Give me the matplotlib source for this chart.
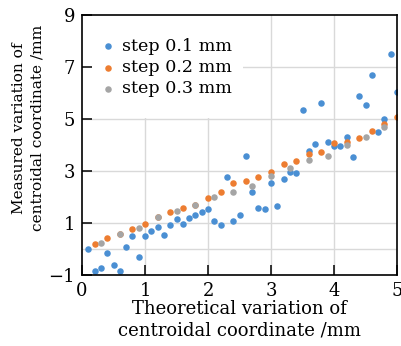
import matplotlib
matplotlib.use("Agg")
import matplotlib.pyplot as plt
from matplotlib.patches import Rectangle

# ---- data ----
x_01 = [0.1, 0.2, 0.3, 0.4, 0.5, 0.6, 0.7, 0.8, 0.9, 1.0,
        1.1, 1.2, 1.3, 1.4, 1.5, 1.6, 1.7, 1.8, 1.9, 2.0,
        2.1, 2.2, 2.3, 2.4, 2.5, 2.6, 2.7, 2.8, 2.9, 3.0,
        3.1, 3.2, 3.3, 3.4, 3.5, 3.6, 3.7, 3.8, 3.9, 4.0,
        4.1, 4.2, 4.3, 4.4, 4.5, 4.6, 4.7, 4.8, 4.9, 5.0]
y_01 = [0.00, -0.83, -0.74, -0.17, -0.63, -0.86, 0.09, 0.51, -0.32, 0.51,
        0.70, 0.83, 0.54, 0.92, 1.15, 0.96, 1.18, 1.31, 1.43, 1.53,
        1.09, 0.93, 2.78, 1.09, 1.31, 3.59, 2.20, 1.57, 1.54, 2.53,
        1.65, 2.69, 2.97, 2.91, 5.35, 3.78, 4.04, 5.60, 4.10, 3.97,
        3.97, 4.29, 3.55, 5.88, 5.54, 6.69, 4.49, 5.00, 7.50, 6.05]

x_02 = [0.2, 0.4, 0.6, 0.8, 1.0, 1.2, 1.4, 1.6, 1.8, 2.0,
        2.2, 2.4, 2.6, 2.8, 3.0, 3.2, 3.4, 3.6, 3.8, 4.0,
        4.2, 4.4, 4.6, 4.8, 5.0]
y_02 = [0.19, 0.44, 0.56, 0.77, 0.96, 1.22, 1.43, 1.56, 1.69, 1.95,
        2.20, 2.53, 2.60, 2.78, 2.97, 3.26, 3.40, 3.64, 3.74, 4.06,
        4.13, 4.28, 4.54, 4.81, 5.09]

x_03 = [0.3, 0.6, 0.9, 1.2, 1.5, 1.8, 2.1, 2.4, 2.7, 3.0,
        3.3, 3.6, 3.9, 4.2, 4.5, 4.8]
y_03 = [0.22, 0.56, 0.82, 1.22, 1.46, 1.69, 2.00, 2.20, 2.42, 2.82,
        3.10, 3.42, 3.58, 4.00, 4.29, 4.68]

labels = ["step 0.1 mm", "step 0.2 mm", "step 0.3 mm"]
colors = ["#4a8fd3", "#ed7d31", "#a5a5a5"]

x_ticks = [0, 1, 2, 3, 4, 5]
y_ticks = [-1, 1, 3, 5, 7, 9]
x_grid = [1, 2, 3, 4]
y_grid = [0, 1, 3, 5, 7]

plt.rcParams["font.family"] = ["DejaVu Serif"]
plt.rcParams["mathtext.fontset"] = "dejavuserif"
FS = 12.6

W, H = 401, 346
fig = plt.figure(figsize=(W / 100, H / 100), dpi=100)
ax = fig.add_axes([82 / W, 1 - 275 / H, (397 - 82) / W, (275 - 15) / H])

ax.set_xlim(0, 5)
ax.set_ylim(-1, 9)

for gx in x_grid:
    ax.axvline(gx, color="#d9d9d9", lw=1.0, zorder=0.5)
for gy in y_grid:
    ax.axhline(gy, color="#d9d9d9", lw=1.0, zorder=0.5)

# white legend background
ax.add_patch(Rectangle((0, 5.05), 2.55, 3.95, facecolor="white",
                       edgecolor="none", zorder=1))

for xs, ys, c, lab in zip([x_01, x_02, x_03], [y_01, y_02, y_03], colors, labels):
    ax.scatter(xs, ys, s=22, color=c, linewidths=0, label=lab, zorder=2)

ax.set_xticks(x_ticks)
ax.set_yticks(y_ticks)
ax.tick_params(direction="in", length=7, width=1.1, labelsize=13, pad=5,
               top=False, right=False)
for sp in ax.spines.values():
    sp.set_linewidth(1.2)
    sp.set_color("black")

ax.set_xlabel("Theoretical variation of\ncentroidal coordinate /mm",
              fontsize=13, linespacing=1.25)
ax.xaxis.label.set_va("center")
ax.xaxis.set_label_coords(0.5, (275 - 319.5) / 260, transform=ax.transAxes)
ax.set_ylabel("Measured variation of\ncentroidal coordinate /mm",
              fontsize=11.1, linespacing=1.45)
ax.yaxis.label.set_va("center")
ax.yaxis.label.set_ha("center")
ax.yaxis.set_label_coords((28 - 82) / 315, (275 - 128) / 260,
                          transform=ax.transAxes)

leg = ax.legend(loc="upper left", bbox_to_anchor=(101 / W, 1 - 38 / H),
                bbox_transform=fig.transFigure, frameon=False, fontsize=FS,
                handlelength=0.8, handletextpad=0.42, labelspacing=0.24,
                borderpad=0, borderaxespad=0, scatterpoints=1)

fig.savefig("out.png", dpi=100)
